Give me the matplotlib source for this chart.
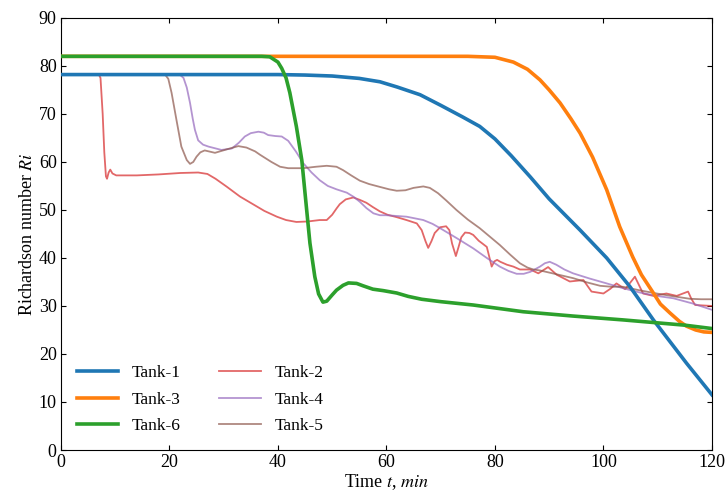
import numpy as np
import matplotlib
matplotlib.use('Agg')
import matplotlib.pyplot as plt

plt.rcParams['font.family'] = ['Liberation Serif', 'DejaVu Serif']
plt.rcParams['mathtext.fontset'] = 'stix'
plt.rcParams['font.size'] = 13

# Tank-1
t1 = [0, 40, 45, 50, 55, 58.8, 62, 66.2, 70, 74, 77.2, 80, 83, 86.5, 90, 95.7,
      100.6, 104.9, 109.2, 115.3, 120]
r1 = [78.2, 78.2, 78.1, 77.9, 77.4, 76.7, 75.6, 74.0, 71.8, 69.4, 67.4, 64.8,
      61.3, 56.9, 52.3, 45.8, 40.0, 34.0, 27.1, 18.1, 11.5]

# Tank-3
t3 = [0, 75, 80, 83.4, 86, 88.3, 90, 92, 94, 95.7, 98, 100.6, 103, 105.4, 107,
      109.2, 110.5, 112.3, 114, 115.3, 117, 118.5, 120]
r3 = [82, 82, 81.8, 80.8, 79.3, 77.1, 75, 72.3, 69, 66, 61, 54.2, 46.5, 40.2,
      36.5, 32.7, 30.4, 28.5, 26.8, 25.8, 25.0, 24.6, 24.5]

# Tank-6
t6 = [0, 37, 38.5, 40, 40.7, 41.5, 42.2, 43.4, 44.4, 45.3, 45.9, 46.8, 47.5,
      48.3, 49, 50, 50.8, 52, 53, 54.5, 55.7, 57.5, 59.4, 61.9, 64, 66.5, 70,
      76, 85.2, 94.4, 103.6, 109.8, 115, 120]
r6 = [82, 82, 81.9, 80.8, 79.5, 77.5, 74.4, 67.4, 60.4, 50, 43.1, 36.1, 32.5,
      30.8, 31.0, 32.3, 33.3, 34.3, 34.8, 34.7, 34.2, 33.5, 33.2, 32.7, 32.0,
      31.4, 30.9, 30.2, 28.8, 27.9, 27.1, 26.5, 26.0, 25.3]

# Tank-2
t2 = [0, 7.0, 7.3, 7.7, 8.0, 8.3, 8.5, 8.8, 9.1, 9.5, 10.2, 14, 18, 22, 25.3,
      27, 28.5, 30.5, 33, 35.4, 37.5, 39.8, 41.5, 43.4, 45.5, 47.7, 49, 50,
      50.8, 51.4, 52.5, 53.9, 55.1, 56.3, 57.5, 58.8, 60.2, 61.9, 63.7, 65.6,
      66.5, 67.2, 67.7, 68.3, 68.9, 69.9, 71.0, 71.6, 72.1, 72.8, 73.3, 73.8,
      74.5, 75.3, 76, 77, 77.7, 78.5, 78.9, 79.4, 79.9, 80.4, 81, 82.2, 83.4,
      84.6, 86.5, 88, 89.8, 91.4, 93.8, 96.3, 97.8, 100, 101.3, 102.4, 104,
      105.8, 107.3, 109.2, 111.6, 113.5, 115.6, 116.2, 116.9, 118.5, 120]
r2 = [78.2, 78.2, 77.5, 70, 62, 57, 56.5, 57.8, 58.4, 57.6, 57.2, 57.2, 57.4,
      57.7, 57.8, 57.5, 56.5, 54.9, 52.8, 51.2, 49.8, 48.6, 47.9, 47.5, 47.6,
      47.9, 47.9, 49, 50.3, 51.2, 52.2, 52.6, 52.1, 51.5, 50.6, 49.7, 49.0,
      48.5, 47.9, 47.2, 45.8, 43.5, 42.1, 43.5, 45.2, 46.4, 46.6, 45.8, 43,
      40.4, 42.3, 44.3, 45.3, 45.2, 44.8, 43.6, 43.0, 42.3, 40.5, 38.2, 39.3,
      39.6, 39.2, 38.6, 38.2, 37.6, 37.6, 36.8, 38.1, 36.5, 35.1, 35.4, 33.0,
      32.6, 33.6, 34.7, 33.5, 36.1, 32.6, 32.1, 32.6, 32.1, 33.0, 31.5, 30.2,
      30.1, 30.0]

# Tank-4
t4 = [0, 21.9, 22.6, 23.2, 23.8, 24.3, 24.7, 25.3, 26.2, 27.2, 29.6, 31.5,
      32.8, 33.9, 35, 36.4, 37.4, 38.2, 39.5, 40.7, 41.9, 43.3, 44.7, 46.2,
      47.7, 49.2, 50.8, 52.7, 54, 55.1, 56.3, 57.6, 58.8, 60, 63.7, 66.8, 68.5,
      69.9, 73, 76, 78.5, 80.9, 82.5, 84, 85.3, 86.5, 88.3, 89.2, 90.1, 91.3,
      92.8, 94.4, 97.5, 100.6, 103.6, 106.7, 109.8, 112.9, 116.5, 120]
r4 = [78.2, 78.2, 77.5, 75.5, 72.3, 69, 66.7, 64.5, 63.6, 63.2, 62.5, 62.8, 64,
      65.3, 66, 66.3, 66.1, 65.6, 65.4, 65.3, 64.4, 62.2, 59.7, 57.8, 56.2, 55,
      54.3, 53.6, 52.7, 51.7, 50.4, 49.3, 48.9, 48.9, 48.6, 47.9, 47.1, 46.2,
      44.1, 42, 40, 38.2, 37.3, 36.7, 36.7, 37.1, 38.2, 38.9, 39.2, 38.6, 37.6,
      36.8, 35.7, 34.7, 33.7, 32.8, 32.1, 31.6, 30.5, 29.2]

# Tank-5
t5 = [0, 19.2, 19.8, 20.4, 21.3, 22.2, 23.2, 23.8, 24.4, 25, 25.7, 26.5, 28.4,
      30.5, 32.7, 34.2, 35.8, 36.7, 38.8, 40.4, 41.9, 44.7, 47, 49, 50.8, 52,
      53.5, 55.1, 56.8, 58.8, 60.5, 61.9, 63.5, 65, 66.8, 68, 69.5, 71, 72.9,
      75, 77.2, 79, 80.9, 82.8, 84.6, 86, 87.1, 88.3, 91, 94.4, 97, 99.4, 101.5,
      103.6, 106.5, 109.8, 113, 115.9, 118, 120]
r5 = [78.2, 78.2, 77.3, 74.4, 68.75, 63.2, 60.4, 59.6, 60.0, 61.1, 62, 62.4,
      61.9, 62.6, 63.3, 63, 62.2, 61.5, 60, 59, 58.7, 58.7, 59, 59.2, 59, 58.3,
      57.2, 56.1, 55.4, 54.8, 54.3, 54, 54.1, 54.6, 54.9, 54.6, 53.5, 52, 50,
      48, 46.2, 44.5, 42.7, 40.7, 38.9, 38, 37.6, 37.4, 36.7, 35.8, 34.9, 34.2,
      34, 34, 33.3, 32.6, 32, 31.5, 31.4, 31.4]

fig = plt.figure(figsize=(7.25, 4.91), dpi=100)
ax = fig.add_axes([0.084, 0.0835, 0.898, 0.88])

ax.plot(t1, r1, color='tab:blue', lw=2.6, label='Tank-1', zorder=4)
ax.plot(t3, r3, color='tab:orange', lw=2.6, label='Tank-3', zorder=4)
ax.plot(t6, r6, color='tab:green', lw=2.6, label='Tank-6', zorder=5)
ax.plot(t2, r2, color='tab:red', lw=1.3, alpha=0.7, label='Tank-2', zorder=3)
ax.plot(t4, r4, color='tab:purple', lw=1.3, alpha=0.7, label='Tank-4', zorder=3)
ax.plot(t5, r5, color='tab:brown', lw=1.3, alpha=0.7, label='Tank-5', zorder=3)

ax.set_xlim(0, 120)
ax.set_ylim(0, 90)
ax.set_xticks(np.arange(0, 121, 20))
ax.set_yticks(np.arange(0, 91, 10))
ax.tick_params(direction='in', top=True, right=True, labelsize=13, pad=3)
ax.set_xlabel('Time $t$, $min$', fontsize=13, labelpad=1)
ax.set_ylabel('Richardson number $Ri$', fontsize=13, labelpad=2)

ax.legend(loc='lower left', ncol=2, frameon=False, handlelength=2.4,
          columnspacing=2.2, labelspacing=0.6, fontsize=12.5,
          bbox_to_anchor=(0, 0.0))

fig.savefig('out.png', dpi=100)
